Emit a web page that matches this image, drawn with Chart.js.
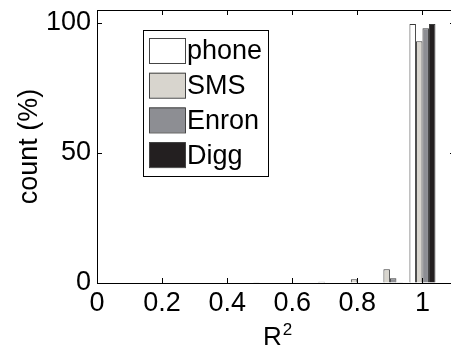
<!DOCTYPE html>
<html>
<head>
<meta charset="utf-8">
<script src="https://cdn.jsdelivr.net/npm/chart.js@4/dist/chart.umd.min.js"></script>
<style>
  html, body { margin: 0; padding: 0; background: #fff; overflow: hidden; }
  #wrap { width: 470px; height: 350px; }
</style>
</head>
<body>
<div id="wrap"><canvas id="histChart" width="470" height="350"></canvas></div>
<script>
// bin centres of the R^2 histogram
const binCenters = [0, 0.1, 0.2, 0.3, 0.4, 0.5, 0.6, 0.7, 0.8, 0.9, 1.0];

// percentage of fits falling in each bin
const phone = [0, 0, 0, 0, 0, 0, 0, 0, 0, 0, 99.6];
const sms   = [0, 0, 0, 0, 0, 0.1, 0.2, 0.5, 1.4, 5.3, 93];
const enron = [0, 0, 0, 0, 0, 0, 0, 0, 0, 1.8, 98];
const digg  = [0, 0, 0, 0, 0, 0, 0, 0, 0, 0.3, 99.6];

const seriesNames = ["phone", "SMS", "Enron", "Digg"];
const seriesColors = ["#ffffff", "#d8d5ce", "#8d8e93", "#231f20"];

const xTicks = [0, 0.2, 0.4, 0.6, 0.8, 1];
const yTicks = [0, 50, 100];

const FONT = "Liberation Sans, Arial, Helvetica, sans-serif";

function toPoints(values) {
    return values.map((v, i) => ({ x: binCenters[i], y: v }));
}

const allSeries = [phone, sms, enron, digg];

// box round the axes, inward ticks on all four sides, x title and the legend
const framePlugin = {
    id: "frame",
    afterDraw(chart) {
        const ctx = chart.ctx;
        const a = chart.chartArea;
        const xs = chart.scales.x;
        const ys = chart.scales.y;
        ctx.save();
        ctx.strokeStyle = "#000";
        ctx.lineWidth = 1;
        ctx.strokeRect(a.left + 0.5, a.top + 0.5, a.right - a.left, a.bottom - a.top);

        const tl = 5;
        ctx.beginPath();
        xTicks.forEach(t => {
            const px = Math.round(xs.getPixelForValue(t)) + 0.5;
            ctx.moveTo(px, a.bottom); ctx.lineTo(px, a.bottom - tl);
            ctx.moveTo(px, a.top); ctx.lineTo(px, a.top + tl);
        });
        yTicks.forEach(t => {
            const py = Math.round(ys.getPixelForValue(t)) + 0.5;
            ctx.moveTo(a.left, py); ctx.lineTo(a.left + tl, py);
            ctx.moveTo(a.right, py); ctx.lineTo(a.right - tl, py);
        });
        ctx.stroke();

        // x axis title R^2
        ctx.fillStyle = "#000";
        ctx.textBaseline = "alphabetic";
        ctx.font = "26px " + FONT;
        const rw = ctx.measureText("R").width;
        ctx.font = "17px " + FONT;
        const sw = ctx.measureText("2").width;
        const tx = 277 - (rw + sw) / 2;
        ctx.font = "26px " + FONT;
        ctx.fillText("R", tx, 345);
        ctx.font = "17px " + FONT;
        ctx.fillText("2", tx + rw + 1, 335);

        // legend
        const lx = 143, ly = 30, lw = 125, lh = 146;
        ctx.fillStyle = "#fff";
        ctx.fillRect(lx, ly, lw, lh);
        ctx.strokeStyle = "#000";
        ctx.strokeRect(lx + 0.5, ly + 0.5, lw, lh);
        ctx.font = "27px " + FONT;
        ctx.textBaseline = "middle";
        chart.data.datasets.forEach((ds, i) => {
            const py = 38 + i * 34.7;
            ctx.fillStyle = ds.backgroundColor;
            ctx.fillRect(149, py, 36, 25);
            ctx.strokeStyle = "#444";
            ctx.strokeRect(149.5, py + 0.5, 36, 25);
            ctx.fillStyle = "#000";
            ctx.fillText(ds.label, 187, py + 14);
        });
        ctx.restore();
    }
};

const ctx = document.getElementById("histChart").getContext("2d");
const histChart = new Chart(ctx, {
    type: "bar",
    data: {
        datasets: seriesNames.map((name, i) => ({
            label: name,
            data: toPoints(allSeries[i]),
            backgroundColor: seriesColors[i],
            borderColor: "#3a3a3a",
            borderWidth: 1,
            borderSkipped: "bottom",
            categoryPercentage: 0.8,
            barPercentage: 1.0
        }))
    },
    options: {
        responsive: false,
        maintainAspectRatio: false,
        animation: false,
        layout: { padding: { top: 10, right: 15, left: 0, bottom: 0 } },
        plugins: {
            legend: { display: false },
            tooltip: { enabled: false }
        },
        scales: {
            x: {
                type: "linear",
                offset: false,
                min: 0,
                max: 1.1,
                afterFit: s => { s.height = 67; s.paddingTop = 0; s.paddingBottom = 0; s.paddingLeft = 0; s.paddingRight = 0; },
                afterBuildTicks: s => { s.ticks = xTicks.map(v => ({ value: v })); },
                grid: { drawOnChartArea: false, drawTicks: false, offset: false },
                border: { display: false },
                ticks: {
                    color: "#000",
                    padding: 4,
                    maxRotation: 0,
                    font: { family: FONT, size: 27 },
                    callback: v => String(Math.round(v * 10) / 10)
                }
            },
            y: {
                min: 0,
                max: 105,
                afterFit: s => { s.width = 97; s.paddingTop = 0; s.paddingBottom = 0; },
                afterBuildTicks: s => { s.ticks = yTicks.map(v => ({ value: v })); },
                grid: { drawOnChartArea: false, drawTicks: false },
                border: { display: false },
                ticks: {
                    color: "#000",
                    padding: 6,
                    font: { family: FONT, size: 27 }
                },
                title: {
                    display: true,
                    text: "count (%)",
                    color: "#000",
                    font: { family: FONT, size: 27 },
                    padding: { top: 13, bottom: 0 }
                }
            }
        }
    },
    plugins: [framePlugin]
});
</script>
</body>
</html>
